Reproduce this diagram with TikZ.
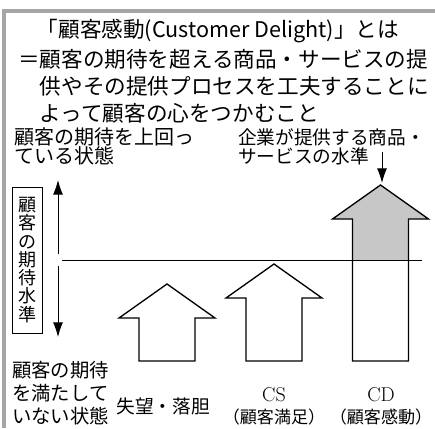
\documentclass[tikz,border=0pt]{standalone}
\usepackage{fontspec}
\newfontfamily\jpfont{Noto Sans CJK JP}
\usetikzlibrary{arrows.meta}
\def\bigarrow[#1](#2,#3)(#4){\draw[#1] (#2,#3) -- ++(48,34) -- ++(-20,0) -- (#2+28,#4) -- (#2-28,#4) -- (#2-28,#3+34) -- ++(-20,0) -- cycle;}
\tikzset{
  headfont/.style={font=\jpfont\fontsize{16.2}{20.25}\selectfont, inner sep=0},
  labelfont/.style={font=\jpfont\fontsize{14}{14}\selectfont, inner sep=0},
  levelarrow/.style={line width=0.75pt, -{Latex[length=11pt,width=7.5pt]}}
}
\begin{document}
\begin{tikzpicture}[x=0.75pt,y=-0.75pt]
			%%%%% START %%%%%
			
			\useasboundingbox (0,0) rectangle (435,428);
			\draw[line width=3pt, color=black!35] (4,428) -- (4,11) -- (435,11);
			
			\node[headfont] (title) at (218,31) {「顧客感動(Customer Delight)」とは};
			\node[headfont, align=left, anchor=west] (defn) at (18,86) {＝顧客の期待を超える商品・サービスの提\\\hspace*{1em}供やその提供プロセスを工夫することに\\\hspace*{1em}よって顧客の心をつかむこと};
			
			\node[labelfont, align=left, anchor=west, font=\jpfont\fontsize{15}{14.2}\selectfont] (above) at (14,146) {顧客の期待を上回っ\\ている状態};
			\node[labelfont, align=left, anchor=west, font=\jpfont\fontsize{14}{14.2}\selectfont] (offer) at (238,147) {企業が提供する商品・\\サービスの水準};
			\node[labelfont, align=left, anchor=west, font=\jpfont\fontsize{14.5}{17}\selectfont] (below) at (12,393) {顧客の期待\\を満たして\\いない状態};
			
			\node[draw, line width=0.75pt, align=center, inner sep=0, minimum width=22.5pt, minimum height=109.5pt, font=\jpfont\fontsize{13.5}{13.7}\selectfont] (level) at (27,260) {顧\\客\\の\\期\\待\\水\\準};
			
			\coordinate (lvl-l) at (62,260);
			\coordinate (lvl-r) at (422,260);
			\coordinate (up-from) at (58,254);
			\coordinate (up-to) at (58,180);
			\coordinate (dn-from) at (58,266);
			\coordinate (dn-to) at (58,337);
			\coordinate (offer-from) at (382,152);
			\coordinate (offer-to) at (382,183);
			
			\draw[levelarrow] (up-from) -- (up-to);
			\draw[levelarrow] (dn-from) -- (dn-to);
			\draw[levelarrow] (offer-from) -- (offer-to);
			
			\bigarrow[line width=1pt](167,284)(361);
			\bigarrow[line width=1pt](274,264)(361);
			\bigarrow[fill=black!22, draw=none](380.5,185)(260);
			\bigarrow[line width=1pt](380.5,185)(361);
			
			\draw[line width=0.75pt] (lvl-l) -- (lvl-r);
			
			\node[labelfont] (fail) at (163,406) {失望・落胆};
			\node[labelfont, align=center, font=\fontsize{15}{16.5}\selectfont] (cs) at (274,406) {CS\\{\jpfont\fontsize{12.8}{16.5}\selectfont （顧客満足）}};
			\node[labelfont, align=center, font=\fontsize{15}{16.5}\selectfont] (cd) at (381,406) {CD\\{\jpfont\fontsize{12.8}{16.5}\selectfont （顧客感動）}};
			
			%%%%% END %%%%%
\end{tikzpicture}
\end{document}
